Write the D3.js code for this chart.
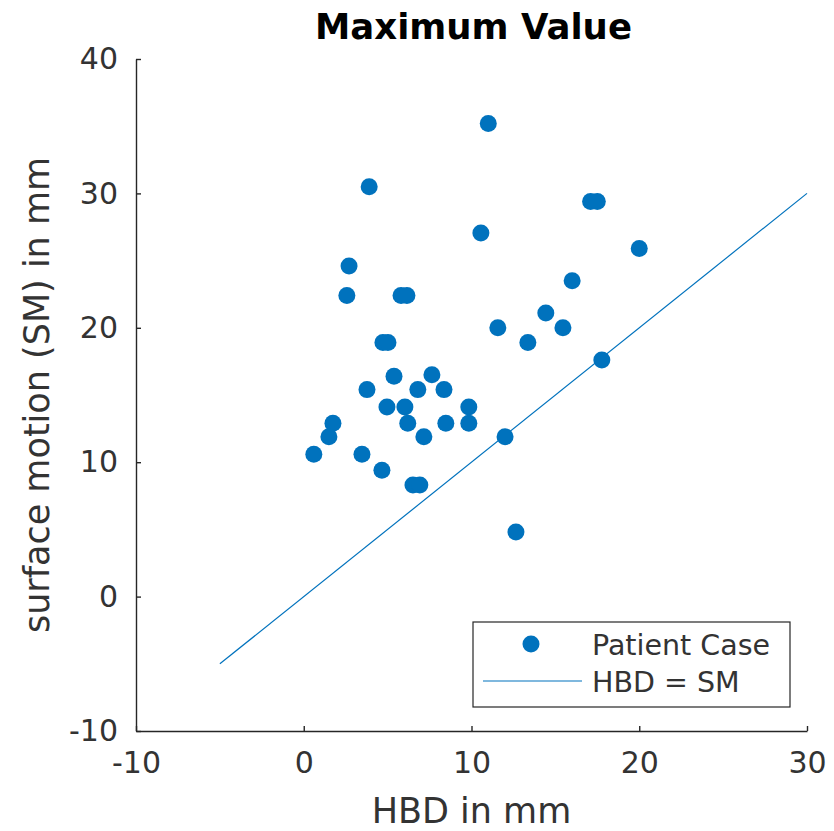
<!DOCTYPE html>
<html>
<head>
<meta charset="utf-8">
<script src="https://cdn.jsdelivr.net/npm/d3@7/dist/d3.min.js"></script>
<style>
  html, body { margin: 0; padding: 0; background: #fff; }
  svg { display: block; font-family: "DejaVu Sans", sans-serif; }
</style>
</head>
<body>
<svg id="chart" width="834" height="831"></svg>
<script>
// HBD (mm) of each patient case
const hbd = [11.0, 3.9, 17.1, 17.5, 10.56, 20.0, 16.0, 2.7, 2.57, 5.8, 6.15, 11.57,
  4.72, 5.02, 5.38, 7.64, 3.77, 6.8, 8.36, 4.96, 6.03, 6.2, 7.16, 8.47, 9.84, 9.84,
  1.74, 1.5, 0.6, 3.47, 4.66, 6.51, 6.92, 12.0, 17.77, 12.65, 14.43, 15.45, 13.36];
// surface motion (mm) of each patient case
const sm = [35.2, 30.5, 29.4, 29.4, 27.05, 25.9, 23.5, 24.6, 22.4, 22.4, 22.4, 20.0,
  18.9, 18.9, 16.4, 16.5, 15.4, 15.4, 15.4, 14.1, 14.1, 12.9, 11.9, 12.9, 14.1, 12.9,
  12.9, 11.9, 10.6, 10.6, 9.4, 8.3, 8.3, 11.9, 17.6, 4.8, 21.1, 20.0, 18.9];
// identity line HBD = SM
const lineX = [-5, 30];
const lineY = [-5, 30];
const xTicks = [-10, 0, 10, 20, 30];
const yTicks = [-10, 0, 10, 20, 30, 40];
const xDomain = [-10, 30];
const yDomain = [-10, 40];
const legendLabels = ["Patient Case", "HBD = SM"];

const blue = "#0072BD";
const axisColor = "#262626";
const svg = d3.select("#chart");
const mLeft = 136, mRight = 807, mTop = 59, mBottom = 731;

const x = d3.scaleLinear().domain(xDomain).range([mLeft, mRight]);
const y = d3.scaleLinear().domain(yDomain).range([mBottom, mTop]);

const fmt = d => String(d);
// Axes
const xAxis = d3.axisBottom(x).tickValues(xTicks).tickFormat(fmt).tickSizeInner(-5).tickSizeOuter(0).tickPadding(21);
const yAxis = d3.axisLeft(y).tickValues(yTicks).tickFormat(fmt).tickSizeInner(-5).tickSizeOuter(0).tickPadding(18);

const gx = svg.append("g").attr("transform", `translate(0,${mBottom})`).call(xAxis);
const gy = svg.append("g").attr("transform", `translate(${mLeft},0)`).call(yAxis);
[gx, gy].forEach(g => {
  g.select(".domain").attr("stroke", axisColor).attr("stroke-width", 1.4);
  g.selectAll(".tick line").attr("stroke", axisColor).attr("stroke-width", 1.4);
  g.selectAll(".tick text").attr("fill", "#333")
    .style("font-family", "DejaVu Sans").style("font-size", "30px");
});

// identity line
svg.append("line")
  .attr("x1", x(lineX[0])).attr("y1", y(lineY[0]))
  .attr("x2", x(lineX[1])).attr("y2", y(lineY[1]))
  .attr("stroke", blue).attr("stroke-width", 1.2);

// points
svg.append("g").selectAll("circle")
  .data(hbd.map((d, i) => [d, sm[i]]))
  .join("circle")
  .attr("cx", d => x(d[0]))
  .attr("cy", d => y(d[1]))
  .attr("r", 8.5)
  .attr("fill", blue);

// title
svg.append("text")
  .attr("x", (mLeft + mRight) / 2 + 2).attr("y", 39)
  .attr("text-anchor", "middle")
  .style("font-size", "35.5px").style("font-weight", "bold")
  .attr("fill", "#000")
  .text("Maximum Value");

// axis labels
svg.append("text")
  .attr("x", (mLeft + mRight) / 2).attr("y", 823)
  .attr("text-anchor", "middle")
  .style("font-size", "35px").attr("fill", "#333")
  .text("HBD in mm");

svg.append("text")
  .attr("transform", `translate(49,${(mTop + mBottom) / 2}) rotate(-90)`)
  .attr("text-anchor", "middle")
  .style("font-size", "35px").attr("fill", "#333")
  .text("surface motion (SM) in mm");

// legend
const lg = svg.append("g");
lg.append("rect")
  .attr("x", 473).attr("y", 622).attr("width", 317).attr("height", 85)
  .attr("fill", "#fff").attr("stroke", axisColor).attr("stroke-width", 1.2);
lg.append("circle").attr("cx", 531).attr("cy", 644).attr("r", 8.5).attr("fill", blue);
lg.append("line").attr("x1", 483).attr("x2", 582).attr("y1", 681).attr("y2", 681)
  .attr("stroke", blue).attr("stroke-width", 1.2);
lg.selectAll("text.leg").data(legendLabels).join("text")
  .attr("class", "leg")
  .attr("x", 592).attr("y", (d, i) => 655 + i * 37)
  .style("font-size", "28.5px").attr("fill", "#333")
  .text(d => d);
</script>
</body>
</html>
